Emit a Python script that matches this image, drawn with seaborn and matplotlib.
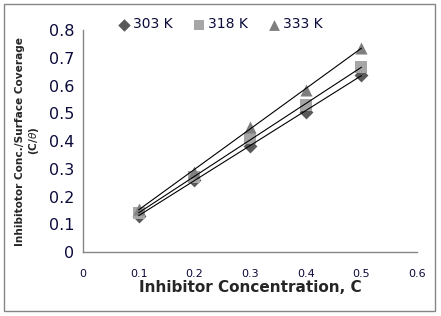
import matplotlib
matplotlib.use("Agg")
import matplotlib.pyplot as plt
import seaborn as sns
import pandas as pd
from matplotlib.patches import Rectangle

# data
conc = [0.1, 0.2, 0.3, 0.4, 0.5]
c_theta_303 = [0.130, 0.260, 0.383, 0.506, 0.638]
c_theta_318 = [0.140, 0.272, 0.410, 0.528, 0.668]
c_theta_333 = [0.155, 0.290, 0.450, 0.585, 0.736]
labels = ["303 K", "318 K", "333 K"]

df = pd.DataFrame({
    "C": conc * 3,
    "ratio": c_theta_303 + c_theta_318 + c_theta_333,
    "temp": [labels[0]] * 5 + [labels[1]] * 5 + [labels[2]] * 5,
})

sns.set_style("white")
plt.rcParams["font.family"] = ["DejaVu Sans"]

fig = plt.figure(figsize=(4.41, 3.16), dpi=100)
ax = fig.add_axes([0.188, 0.2025, 0.758, 0.7025])

styles = {
    "303 K": dict(marker="D", color="#595959", s=50),
    "318 K": dict(marker="s", color="#a6a6a6", s=75),
    "333 K": dict(marker="^", color="#7f7f7f", s=75),
}

for lab in labels:
    sub = df[df.temp == lab]
    st = styles[lab]
    ax.scatter(sub.C, sub.ratio, marker=st["marker"], color=st["color"],
               s=st["s"], linewidths=0, label=lab, zorder=2)
    sns.regplot(data=sub, x="C", y="ratio", ax=ax, scatter=False, ci=None,
                truncate=True, line_kws=dict(color="black", lw=0.8, zorder=3))

ax.set_xlim(0, 0.6)
ax.set_ylim(0, 0.8)
ax.set_xticks([0, 0.1, 0.2, 0.3, 0.4, 0.5, 0.6])
ax.set_xticklabels(["0", "0.1", "0.2", "0.3", "0.4", "0.5", "0.6"], fontsize=8)
ax.set_yticks([0, 0.1, 0.2, 0.3, 0.4, 0.5, 0.6, 0.7, 0.8])
ax.set_yticklabels(["0", "0.1", "0.2", "0.3", "0.4", "0.5", "0.6", "0.7", "0.8"], fontsize=11.5)

for sp in ["top", "right"]:
    ax.spines[sp].set_visible(False)
for sp in ["left", "bottom"]:
    ax.spines[sp].set_color("#868686")
    ax.spines[sp].set_linewidth(1)
ax.tick_params(axis="both", direction="out", length=4, width=1, color="#868686",
               labelcolor="#0b0b3b")
ax.tick_params(axis="x", pad=8)
ax.tick_params(axis="y", pad=2)

ax.set_xlabel("Inhibitor Concentration, C", fontsize=11, fontweight="bold", labelpad=1)
ax.set_ylabel("Inhibitotor Conc./Surface Coverage\n(C/$\\mathit{\\theta}$)",
              fontsize=7.6, fontweight="bold", linespacing=1.2)
ax.yaxis.set_label_coords(-0.125, 0.5)

leg = ax.legend(loc="center", bbox_to_anchor=(0.41, 1.025), ncol=3, frameon=False,
                fontsize=10, handletextpad=0.15, columnspacing=1.4, markerscale=0.9,
                borderaxespad=0, handlelength=1.0)
for t in leg.get_texts():
    t.set_color("#0b0b3b")

fig.patches.append(Rectangle((0.009, 0.016), 0.978, 0.97, transform=fig.transFigure,
                             fill=False, edgecolor="#868686", lw=1))

fig.savefig("out.png", dpi=100)
